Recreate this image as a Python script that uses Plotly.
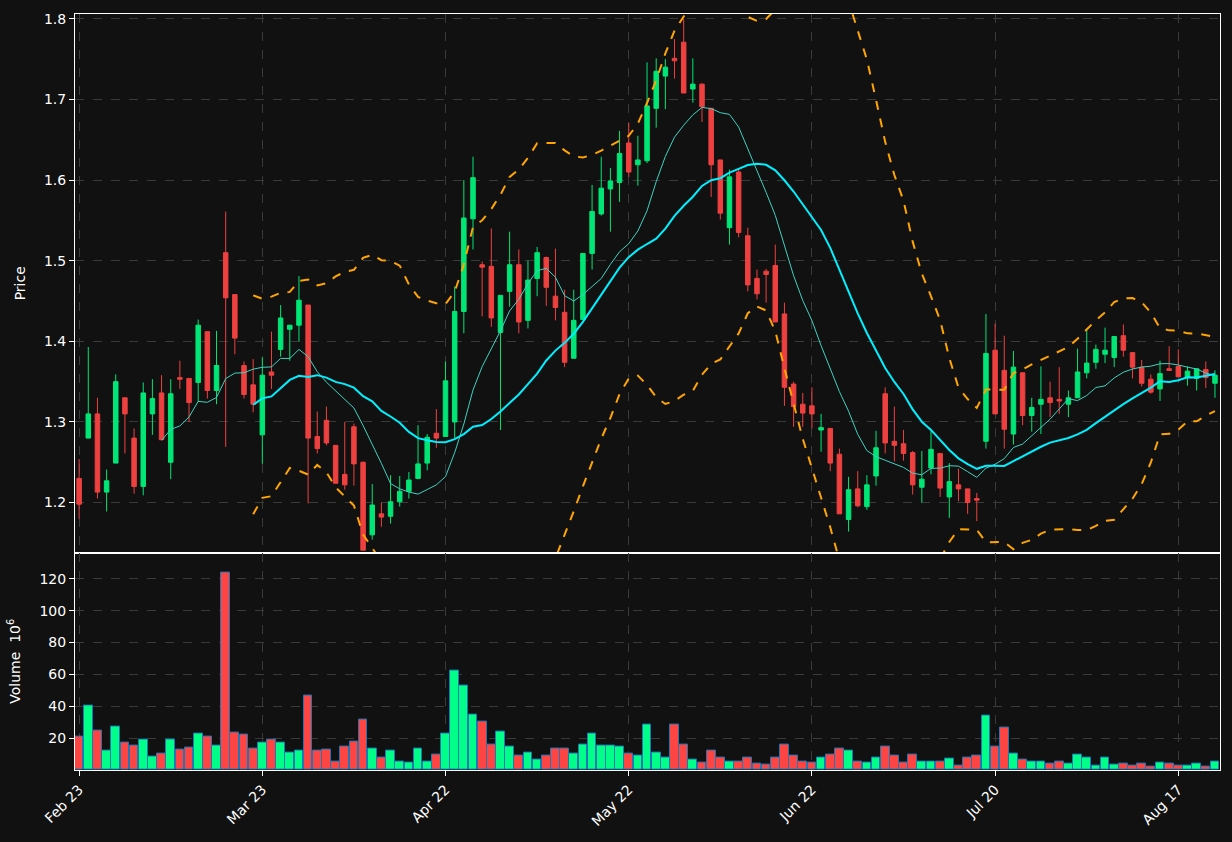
import pandas as pd
import plotly.graph_objects as go
from plotly.subplots import make_subplots

# daily OHLC, one entry per trading day
opens = [1.230, 1.280, 1.310, 1.213, 1.249, 1.330, 1.280, 1.220, 1.310, 1.336,
         1.250, 1.355, 1.354, 1.349, 1.412, 1.339, 1.510, 1.458, 1.370, 1.346,
         1.284, 1.362, 1.390, 1.415, 1.420, 1.445, 1.282, 1.302, 1.271, 1.235,
         1.294, 1.250, 1.160, 1.186, 1.183, 1.201, 1.214, 1.230, 1.249, 1.286,
         1.282, 1.300, 1.437, 1.552, 1.495, 1.493, 1.411, 1.462, 1.495, 1.426,
         1.478, 1.504, 1.456, 1.436, 1.379, 1.427, 1.509, 1.558, 1.589, 1.597,
         1.646, 1.619, 1.624, 1.689, 1.729, 1.751, 1.771, 1.713, 1.719, 1.689,
         1.625, 1.541, 1.610, 1.531, 1.478, 1.487, 1.494, 1.434, 1.347, 1.322,
         1.320, 1.290, 1.292, 1.260, 1.179, 1.217, 1.195, 1.233, 1.335, 1.276,
         1.273, 1.262, 1.219, 1.243, 1.261, 1.207, 1.222, 1.217, 1.205, 1.276,
         1.389, 1.364, 1.285, 1.361, 1.308, 1.322, 1.330, 1.328, 1.322, 1.330,
         1.361, 1.374, 1.384, 1.380, 1.407, 1.386, 1.368, 1.353, 1.341, 1.366,
         1.369, 1.355, 1.354, 1.365, 1.348]
highs = [1.254, 1.393, 1.330, 1.241, 1.359, 1.330, 1.292, 1.349, 1.353, 1.358,
         1.353, 1.376, 1.354, 1.427, 1.412, 1.413, 1.561, 1.458, 1.375, 1.378,
         1.380, 1.412, 1.445, 1.420, 1.481, 1.445, 1.313, 1.319, 1.271, 1.300,
         1.298, 1.251, 1.223, 1.200, 1.234, 1.233, 1.238, 1.296, 1.285, 1.316,
         1.375, 1.468, 1.600, 1.629, 1.499, 1.540, 1.457, 1.536, 1.514, 1.500,
         1.517, 1.505, 1.515, 1.464, 1.464, 1.509, 1.594, 1.629, 1.615, 1.661,
         1.671, 1.655, 1.746, 1.751, 1.750, 1.775, 1.800, 1.751, 1.720, 1.689,
         1.625, 1.613, 1.613, 1.541, 1.489, 1.490, 1.520, 1.448, 1.350, 1.336,
         1.343, 1.310, 1.292, 1.267, 1.232, 1.239, 1.234, 1.289, 1.343, 1.319,
         1.290, 1.264, 1.264, 1.289, 1.261, 1.249, 1.242, 1.217, 1.212, 1.434,
         1.422, 1.407, 1.388, 1.361, 1.330, 1.369, 1.350, 1.368, 1.339, 1.391,
         1.416, 1.396, 1.417, 1.406, 1.421, 1.386, 1.377, 1.359, 1.376, 1.394,
         1.390, 1.369, 1.366, 1.375, 1.364]
lows = [1.180, 1.280, 1.205, 1.189, 1.249, 1.261, 1.211, 1.209, 1.284, 1.278,
        1.229, 1.341, 1.300, 1.325, 1.329, 1.322, 1.269, 1.384, 1.329, 1.312,
        1.248, 1.341, 1.381, 1.376, 1.400, 1.199, 1.261, 1.271, 1.224, 1.216,
        1.221, 1.141, 1.154, 1.170, 1.174, 1.195, 1.205, 1.229, 1.240, 1.268,
        1.282, 1.280, 1.410, 1.514, 1.431, 1.418, 1.290, 1.443, 1.410, 1.416,
        1.456, 1.444, 1.426, 1.368, 1.379, 1.427, 1.489, 1.556, 1.536, 1.573,
        1.604, 1.593, 1.621, 1.665, 1.688, 1.726, 1.708, 1.696, 1.672, 1.579,
        1.551, 1.520, 1.529, 1.462, 1.452, 1.448, 1.424, 1.320, 1.294, 1.294,
        1.292, 1.263, 1.239, 1.186, 1.164, 1.194, 1.191, 1.221, 1.261, 1.251,
        1.252, 1.210, 1.200, 1.235, 1.207, 1.181, 1.202, 1.186, 1.177, 1.267,
        1.310, 1.267, 1.272, 1.296, 1.288, 1.285, 1.306, 1.310, 1.306, 1.330,
        1.354, 1.366, 1.373, 1.368, 1.381, 1.354, 1.344, 1.335, 1.326, 1.364,
        1.356, 1.345, 1.339, 1.342, 1.330]
closes = [1.198, 1.310, 1.213, 1.227, 1.350, 1.310, 1.220, 1.336, 1.329, 1.278,
          1.335, 1.353, 1.324, 1.420, 1.339, 1.370, 1.454, 1.404, 1.334, 1.322,
          1.358, 1.358, 1.429, 1.420, 1.451, 1.280, 1.267, 1.274, 1.224, 1.222,
          1.248, 1.141, 1.197, 1.182, 1.201, 1.214, 1.228, 1.248, 1.281, 1.280,
          1.351, 1.437, 1.553, 1.603, 1.492, 1.429, 1.457, 1.495, 1.424, 1.476,
          1.510, 1.467, 1.442, 1.374, 1.426, 1.509, 1.561, 1.590, 1.599, 1.633,
          1.610, 1.625, 1.692, 1.735, 1.740, 1.748, 1.708, 1.719, 1.691, 1.619,
          1.559, 1.604, 1.535, 1.470, 1.459, 1.483, 1.424, 1.343, 1.319, 1.311,
          1.310, 1.293, 1.249, 1.186, 1.216, 1.196, 1.222, 1.268, 1.274, 1.271,
          1.261, 1.222, 1.229, 1.266, 1.218, 1.226, 1.217, 1.200, 1.203, 1.385,
          1.310, 1.291, 1.368, 1.308, 1.318, 1.328, 1.324, 1.326, 1.330, 1.362,
          1.373, 1.390, 1.389, 1.406, 1.389, 1.368, 1.348, 1.337, 1.360, 1.364,
          1.356, 1.363, 1.366, 1.355, 1.358]
# volume in millions
volumes = [21, 40.6, 25, 12.5, 27.5, 17, 15.6, 18.8, 8.5, 10.6,
           19.4, 13, 14, 23, 21, 15.6, 123.7, 23.7, 22.5, 13.7,
           17.5, 19.4, 17.5, 11.2, 11.9, 46.9, 12.5, 13, 5.6, 14.4,
           18, 31.9, 13.7, 7.5, 11.9, 5.6, 4.4, 13.7, 5.6, 10,
           23, 62.5, 53, 35, 30.6, 16.2, 24.4, 15, 8.75, 11.2,
           6.25, 8.75, 13.7, 13.7, 10.6, 16.2, 23, 15.6, 15.6, 14.4,
           10.6, 8.75, 28.7, 11.2, 7.9, 28.7, 16.2, 6.25, 4.4, 11.9,
           7.5, 5.6, 5, 8.1, 3.75, 3.1, 8.1, 16.2, 8.75, 5.6,
           4.4, 8.1, 10, 13.7, 12.5, 5.6, 4.4, 8.1, 15, 8.75,
           4.4, 9.4, 5.6, 5.6, 5.6, 6.9, 2.5, 8.1, 8.75, 34.4,
           14.4, 26.9, 10.6, 6.25, 5.6, 5, 3.75, 5.6, 3.75, 10,
           7.5, 2.5, 8.1, 3.1, 3.75, 2.5, 3.75, 1.9, 4.4, 3.75,
           2.5, 2.5, 3.75, 1.9, 5.6]
tick_labels = ["Feb 23", "Mar 23", "Apr 22", "May 22", "Jun 22", "Jul 20", "Aug 17"]

GREEN = "#00e676"
RED = "#ef4040"
BG = "#111111"

df = pd.DataFrame({"open": opens, "high": highs, "low": lows, "close": closes, "volume": volumes})
idx = list(range(len(df)))
sma10 = df["close"].rolling(10).mean()
sma20 = df["close"].rolling(20).mean()
std20 = df["close"].rolling(20).std()
upper = sma20 + 2 * std20
lower = sma20 - 2 * std20

fig = make_subplots(rows=2, cols=1, shared_xaxes=True, vertical_spacing=0,
                    row_heights=[0.7124, 0.2876])

fig.add_trace(go.Candlestick(
    x=idx, open=df["open"], high=df["high"], low=df["low"], close=df["close"],
    increasing=dict(line=dict(color=GREEN, width=1), fillcolor=GREEN),
    decreasing=dict(line=dict(color=RED, width=1), fillcolor=RED),
    whiskerwidth=0, showlegend=False), row=1, col=1)
fig.add_trace(go.Scatter(x=idx, y=sma10, mode="lines", line=dict(color="#3fd3c0", width=1),
                         showlegend=False), row=1, col=1)
fig.add_trace(go.Scatter(x=idx, y=sma20, mode="lines", line=dict(color="#00f0ff", width=2),
                         showlegend=False), row=1, col=1)
for band in (upper, lower):
    fig.add_trace(go.Scatter(x=idx, y=band, mode="lines",
                             line=dict(color="#ffa500", width=2, dash="dash"),
                             showlegend=False), row=1, col=1)

bar_colors = ["#00ff88" if c >= o else "#ff4444" for o, c in zip(opens, closes)]
fig.add_trace(go.Bar(x=idx, y=df["volume"], marker=dict(color=bar_colors,
                     line=dict(color="#1f77b4", width=1)), width=0.95,
                     showlegend=False), row=2, col=1)

axis_style = dict(showline=True, linecolor="white", linewidth=1, mirror=True,
                  gridcolor="#3a3a3a", griddash="dash", zeroline=False,
                  ticks="outside", tickcolor="white", tickfont=dict(color="white", size=14))
fig.update_xaxes(**axis_style, range=[-0.45, 124.55], rangeslider_visible=False)
fig.update_xaxes(tickvals=list(range(0, 125, 20)), ticktext=tick_labels, tickangle=-45,
                 row=2, col=1)
fig.update_xaxes(tickvals=list(range(0, 125, 20)), showticklabels=False, row=1, col=1)
fig.update_yaxes(**axis_style)
fig.update_yaxes(range=[1.138, 1.806], dtick=0.1, tickformat=".1f",
                 title=dict(text="Price", font=dict(color="white", size=14)), row=1, col=1)
fig.update_yaxes(range=[0, 136.5], tickvals=[20, 40, 60, 80, 100, 120],
                 title=dict(text="Volume  10<sup>6</sup>", font=dict(color="white", size=14)),
                 row=2, col=1)

fig.update_layout(width=1232, height=842, paper_bgcolor=BG, plot_bgcolor=BG,
                  margin=dict(l=75, r=11, t=12, b=72), bargap=0,
                  font=dict(family="DejaVu Sans", color="white"))

fig.write_html("out.html", config={"displayModeBar": False},
               post_script="document.body.style.margin='0';document.body.style.background='#111111';")
